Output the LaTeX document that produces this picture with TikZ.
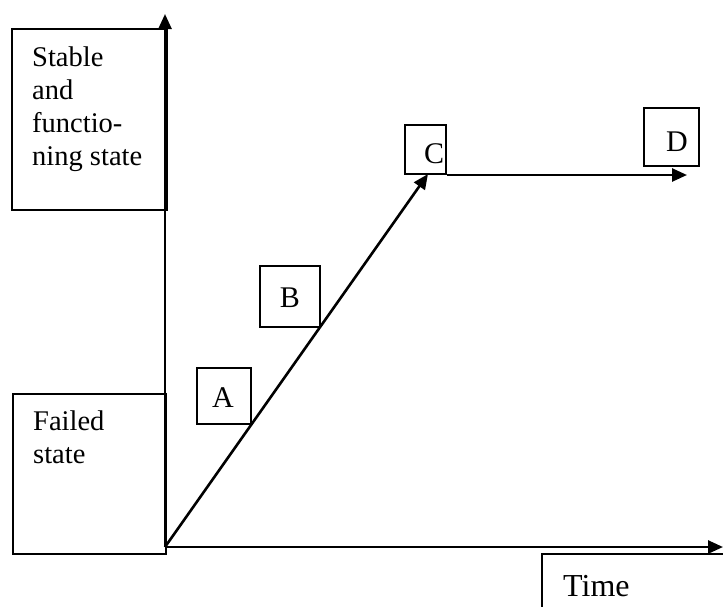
\documentclass[tikz,border=0pt]{standalone}
\usepackage{fontspec}
\setmainfont{Liberation Serif}
\usetikzlibrary{arrows.meta}
\begin{document}
\begin{tikzpicture}[x=1pt,y=-1pt,
  boxframe/.style={draw, line width=2pt, rectangle, inner sep=0pt},
  lbl/.style={font=\fontsize{28.5}{33}\selectfont, inner sep=0pt, align=left},
  letter/.style={font=\fontsize{30}{33}\selectfont, inner sep=0pt},
  axis/.style={line width=2.6pt, -{Triangle[length=15pt,width=13pt]}},
  ]
\clip (0,0) rectangle (723,606);
% boxes
\node[boxframe, anchor=north west, minimum width=155pt, minimum height=181pt] (stable) at (11,28) {};
\node[boxframe, anchor=north west, minimum width=153pt, minimum height=160pt] (failed) at (12,393) {};
\node[boxframe, anchor=north west, minimum width=54pt, minimum height=56pt] (boxA) at (196,367) {};
\node[boxframe, anchor=north west, minimum width=60pt, minimum height=61pt] (boxB) at (259,265) {};
\node[boxframe, anchor=north west, minimum width=41pt, minimum height=49pt] (boxC) at (404,124) {};
\node[boxframe, anchor=north west, minimum width=55pt, minimum height=58pt] (boxD) at (643,107) {};
\node[boxframe, anchor=north west, minimum width=220pt, minimum height=100pt] (timebox) at (541,553) {};
% texts
\node[lbl, anchor=north west] (stabletext) at (32,47) {Stable\\and\\functio-\\ning state};
\node[lbl, anchor=north west] (failedtext) at (33,411) {Failed\\state};
\node[letter, font=\fontsize{32}{33}\selectfont, anchor=base west] (timetext) at (563,596) {Time};
\node[letter, anchor=base] (la) at (223,407) {A};
\node[letter, anchor=base] (lb) at (290,307) {B};
\node[letter, anchor=base] (lc) at (434,163) {C};
\node[letter, anchor=base] (ld) at (677,151) {D};
% axes
\coordinate (O) at (165,547);
\coordinate (ytip) at (165,14);
\coordinate (xtip) at (723,547);
\coordinate (ctip) at (428,174);
\coordinate (dtip) at (687,175);
\draw[axis] (O) -- (ytip);
\draw[axis] (O) -- (xtip);
\draw[axis] (O) -- (ctip);
\draw[axis] (boxC.south east) -- (dtip);
\end{tikzpicture}
\end{document}
